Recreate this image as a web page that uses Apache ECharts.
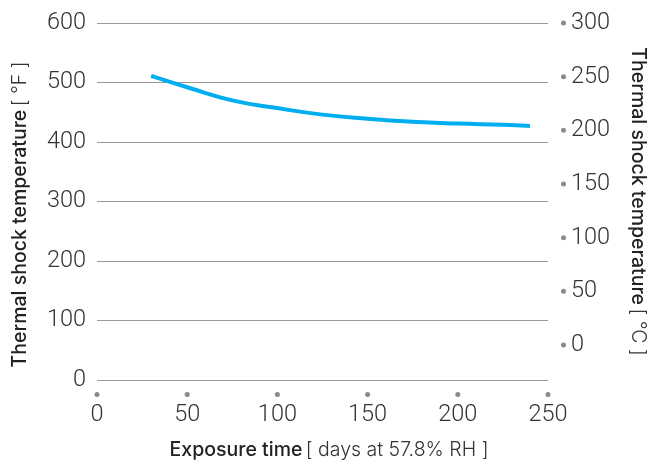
<!DOCTYPE html>
<html><head><meta charset="utf-8">
<script src="https://cdn.jsdelivr.net/npm/echarts@6/dist/echarts.min.js"></script>
<style>html,body{margin:0;padding:0;background:#fff}#c{width:648px;height:462px}</style>
</head><body><div id="c"></div>
<script>
const days = [30, 50, 75, 100, 125, 150, 175, 200, 225, 240];
const tempF = [511, 492, 470, 457, 446, 439, 434, 431, 429, 427];
const xTicks = [0, 50, 100, 150, 200, 250];
const leftTicks = [0, 100, 200, 300, 400, 500, 600];
const rightTicks = [0, 50, 100, 150, 200, 250, 300];

const FONT = 'Roboto, "Liberation Sans", sans-serif';
const TFONT = 'Inter, Roboto, sans-serif';
const dotStyle = {width: 5, height: 5, borderRadius: 2.5, backgroundColor: '#8a8a8a'};
const titleRich = {
  b: {fontFamily: TFONT, fontWeight: 500, fontSize: 19.5, color: '#222'},
  l: {fontFamily: TFONT, fontWeight: 300, fontSize: 19.5, color: '#333'}
};
const chart = echarts.init(document.getElementById('c'), null, {renderer: 'canvas'});
chart.setOption({
  animation: false,
  grid: {left: 97, right: 100, top: 23, bottom: 82, outerBoundsMode: 'none', containLabel: false},
  xAxis: {
    type: 'value', min: 0, max: 250, interval: 50,
    axisLine: {show: false}, axisTick: {show: false}, splitLine: {show: false},
    axisLabel: {
      margin: 12,
      customValues: xTicks,
      formatter: v => '{d| }\n{v|' + v + '}',
      rich: {
        d: Object.assign({}, dotStyle, {align: 'center'}),
        v: {fontFamily: FONT, fontWeight: 300, fontSize: 23.5, color: '#333', lineHeight: 28, padding: [8, 0, 0, 0]}
      }
    },
    name: '{b|Exposure time} {l|[ days at 57.8% RH ]}',
    nameLocation: 'middle', nameGap: 60,
    nameTextStyle: {rich: titleRich, padding: [0, 0, 0, 13]}
  },
  yAxis: [{
    type: 'value', min: 0, max: 600, interval: 100,
    axisLine: {show: false}, axisTick: {show: false},
    splitLine: {show: true, lineStyle: {color: '#9a9a9a', width: 1.2}},
    axisLabel: {margin: 11, customValues: leftTicks, fontFamily: FONT, fontWeight: 300, fontSize: 23.5, color: '#333'},
    name: '{b|Thermal shock temperature} {l|[ °F ]}',
    nameLocation: 'middle', nameRotate: 90, nameGap: 67,
    nameTextStyle: {rich: titleRich, padding: [0, 26, 0, 0]}
  }, {
    type: 'value', min: -32.6, max: 300, position: 'right',
    axisLine: {show: false}, axisTick: {show: false}, splitLine: {show: false},
    axisLabel: {
      margin: 13, customValues: rightTicks,
      formatter: v => '{d| }{v|' + v + '}',
      rich: {
        d: dotStyle,
        v: {fontFamily: FONT, fontWeight: 300, fontSize: 23.5, color: '#333', padding: [0, 0, 0, 5]}
      }
    },
    name: '{b|Thermal shock temperature} {l|[ °C ]}',
    nameLocation: 'middle', nameRotate: -90, nameGap: 80,
    nameTextStyle: {rich: titleRich}
  }],
  series: [{
    type: 'line', yAxisIndex: 0, smooth: true, showSymbol: false,
    lineStyle: {color: '#00aeef', width: 4},
    data: days.map((d, i) => [d, tempF[i]])
  }]
});
</script></body></html>
